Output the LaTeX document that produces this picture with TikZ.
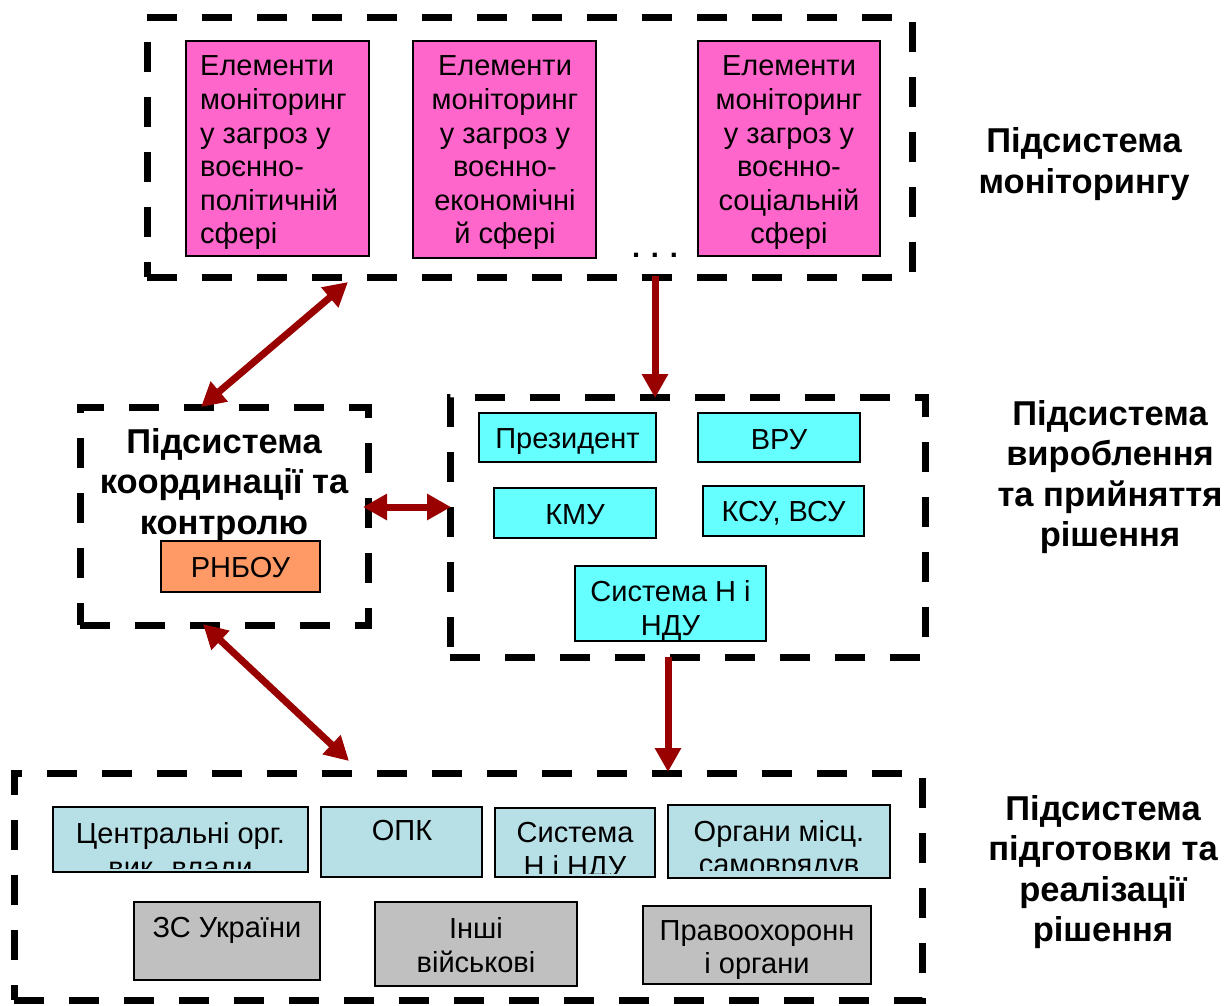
\documentclass[tikz,border=0pt]{standalone}
\usepackage{fontspec}
\setmainfont{Liberation Sans}
\usetikzlibrary{arrows.meta}
\definecolor{arrowred}{RGB}{153,0,0}
\definecolor{pinkbox}{RGB}{255,102,204}
\definecolor{cyanbox}{RGB}{102,255,255}
\definecolor{orangebox}{RGB}{255,153,102}
\definecolor{bluebox}{RGB}{183,223,230}
\definecolor{greybox}{RGB}{192,192,192}
\begin{document}
\begin{tikzpicture}[x=1pt,y=-1pt,
  dbox/.style={draw=black, line width=7pt, dash pattern=on 30pt off 25pt, inner sep=0pt, outer sep=0pt},
  sbox/.style={draw=black, line width=1.5pt, inner sep=0pt, outer sep=0pt, fill=#1},
  txt/.style={font=\fontsize{29}{33.6}\selectfont, align=center, inner sep=0pt},
  ttl/.style={font=\fontsize{34.5}{40.5}\selectfont\bfseries, align=center, inner sep=0pt},
  arr/.style={draw=arrowred, line width=7pt, -{Triangle[length=24pt,width=25pt]}},
  darr/.style={draw=arrowred, line width=7pt, {Triangle[length=24pt,width=25pt]}-{Triangle[length=24pt,width=25pt]}}
]
\useasboundingbox (0,0) rectangle (1225,1005);

% --- monitoring subsystem
\node[dbox, minimum width=765, minimum height=260] (mon) at (529.5,147) {};
\node[sbox=pinkbox, minimum width=183, minimum height=215] (p1) at (277.5,148.5) {};
\node[sbox=pinkbox, minimum width=183, minimum height=217] (p2) at (504.5,149.5) {};
\node[sbox=pinkbox, minimum width=182, minimum height=215] (p3) at (789,148.5) {};
\node[txt, align=left, anchor=west] (p1t) at (200,153) {Елементи\\моніторинг\\у загроз у\\воєнно-\\політичній\\сфері};
\node[txt] (p2t) at (505,153) {Елементи\\моніторинг\\у загроз у\\воєнно-\\економічні\\й сфері};
\node[txt] (p3t) at (789,153) {Елементи\\моніторинг\\у загроз у\\воєнно-\\соціальній\\сфері};
\node[txt, font=\fontsize{29}{33.6}\selectfont\bfseries] (dots) at (655,255) {. . .};
\node[ttl] (l1) at (1084,164) {Підсистема\\моніторингу};

% --- coordination subsystem
\node[dbox, minimum width=288, minimum height=218] (crd) at (224,516) {};
\node[ttl] (crdt) at (224,485) {Підсистема\\координації та\\контролю};
\node[sbox=orangebox, minimum width=159, minimum height=51] (rnbo) at (240.5,566.5) {};
\node[txt] (rnbot) at (240.5,568) {РНБОУ};

% --- decision subsystem
\node[dbox, minimum width=475, minimum height=260] (dec) at (687.5,527) {};
\node[sbox=cyanbox, minimum width=177, minimum height=49] (pr) at (567.5,437.5) {};
\node[txt] (prt) at (567.5,442) {Президент};
\node[sbox=cyanbox, minimum width=162, minimum height=49] (vru) at (779,437.5) {};
\node[txt] (vrut) at (779,440) {ВРУ};
\node[sbox=cyanbox, minimum width=162, minimum height=50] (kmu) at (575,513) {};
\node[txt] (kmut) at (575,515) {КМУ};
\node[sbox=cyanbox, minimum width=161, minimum height=50] (ksu) at (783.5,511) {};
\node[txt] (ksut) at (783.5,513) {КСУ, ВСУ};
\node[sbox=cyanbox, minimum width=191, minimum height=75] (sn) at (670.5,603.5) {};
\node[txt] (snt) at (670.5,611) {Система Н і\\НДУ};
\node[ttl] (l2) at (1110,477) {Підсистема\\вироблення\\та прийняття\\рішення};

% --- implementation subsystem
\node[dbox, minimum width=908, minimum height=227] (imp) at (468,886.5) {};
\node[sbox=bluebox, minimum width=255, minimum height=65] (c1) at (180.5,839.5) {};
\begin{scope}
  \clip (c1.north west) rectangle ([yshift=4pt]c1.south east);
  \node[txt, anchor=base] (c1a) at (180.5,843) {Центральні орг.};
  \node[txt, anchor=base] (c1b) at (180.5,877) {вик. влади};
\end{scope}
\node[sbox=bluebox, minimum width=161, minimum height=70] (opk) at (401.5,842) {};
\node[txt] (opkt) at (402,830) {ОПК};
\node[sbox=bluebox, minimum width=160, minimum height=69] (c3) at (575,842.5) {};
\begin{scope}
  \clip (c3.north west) rectangle ([yshift=4pt]c3.south east);
  \node[txt, anchor=base] (c3a) at (575,842) {Система};
  \node[txt, anchor=base] (c3b) at (575,876) {Н і НДУ};
\end{scope}
\node[sbox=bluebox, minimum width=222, minimum height=73] (c4) at (779,841.5) {};
\begin{scope}
  \clip (c4.north west) rectangle ([yshift=8pt]c4.south east);
  \node[txt, anchor=base] (c4a) at (779,841) {Органи місц.};
  \node[txt, anchor=base] (c4b) at (779,874) {самоврядув};
\end{scope}
\node[sbox=greybox, minimum width=186, minimum height=78] (zs) at (227,941) {};
\node[txt] (zst) at (227,930) {ЗС України};
\node[sbox=greybox, minimum width=202, minimum height=84] (in) at (476,944) {};
\node[txt] (int) at (476,945) {Інші\\військові};
\node[sbox=greybox, minimum width=228, minimum height=78] (po) at (757,945) {};
\node[txt] (pot) at (757,950) {Правоохоронн\\і органи};
\node[ttl] (l3) at (1103,872) {Підсистема\\підготовки та\\реалізації\\рішення};

% --- connectors
\coordinate (a1s) at (348,282);
\coordinate (a1e) at (201,407);
\draw[darr] (a1s) -- (a1e);
\coordinate (a2s) at (655,276);
\coordinate (a2e) at (655,398);
\draw[arr] (a2s) -- (a2e);
\coordinate (a3s) at (363,507);
\coordinate (a3e) at (451,507);
\draw[darr] (a3s) -- (a3e);
\coordinate (a4s) at (203,624);
\coordinate (a4e) at (349,761);
\draw[darr] (a4s) -- (a4e);
\coordinate (a5s) at (668,657);
\coordinate (a5e) at (668,772);
\draw[arr] (a5s) -- (a5e);
\end{tikzpicture}
\end{document}
